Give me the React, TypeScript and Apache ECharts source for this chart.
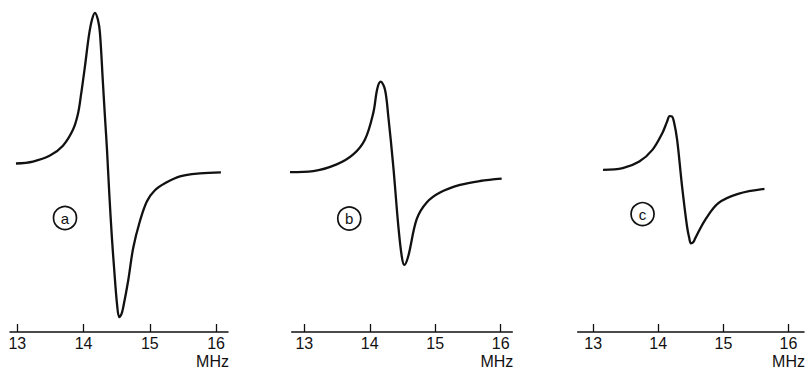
import React, { useEffect, useRef } from "react";
import * as echarts from "echarts";

// Tick labels (MHz)
const tickValues = [13, 14, 15, 16];
const tickLabels = ["13", "14", "15", "16"];
const panelNames = ["a", "b", "c"];

// Panel a: frequency (MHz) and signal (arbitrary units)
const freqA = [12.98, 13.237, 13.493, 13.689, 13.84, 13.915, 13.961, 14.021, 14.081, 14.127, 14.172, 14.217, 14.247, 14.292, 14.323, 14.353, 14.388, 14.428, 14.466, 14.504, 14.538, 14.572, 14.599, 14.674, 14.75, 14.851, 14.957, 15.077, 15.228, 15.455, 15.756, 16.073];
const sigA = [3, 5, 11, 21, 37, 53, 72, 101, 132, 148, 155, 148, 135, 85, 50, 18, -27, -72, -107, -138, -152, -149, -142, -115, -82, -55, -35, -24, -17, -10, -7, -6];

// Panel b
const freqB = [12.771, 13.137, 13.495, 13.748, 13.927, 14.054, 14.115, 14.167, 14.233, 14.283, 14.359, 14.436, 14.488, 14.527, 14.589, 14.717, 14.87, 15.073, 15.378, 15.684, 16.015];
const sigB = [-4.7, -3.7, 3, 13, 28, 54.7, 79, 86, 78, 51.3, 1.3, -58.7, -89, -98, -89, -52, -35.3, -25.3, -17.7, -13.7, -11.3];

// Panel c
const freqC = [13.152, 13.455, 13.709, 13.91, 14.062, 14.134, 14.175, 14.209, 14.24, 14.29, 14.366, 14.442, 14.475, 14.502, 14.536, 14.569, 14.721, 14.923, 15.226, 15.631];
const sigC = [-2, -0.3, 6.3, 18, 34.7, 46, 51.8, 51.5, 46.3, 28, -18.7, -58.7, -70, -75.5, -74.5, -70.3, -52, -35.3, -26, -21];

// Panel label positions (data coordinates)
const labelFreq = [13.72, 13.687, 13.759];
const labelSig = [-52, -51.3, -46.3];

const FONT = "'Liberation Sans Narrow', 'Liberation Sans', Arial, sans-serif";
const INK = "#111111";

export default function App() {
  const ref = useRef<HTMLDivElement>(null);
  useEffect(() => {
    if (!ref.current) return;
    const chart = echarts.init(ref.current, null, { renderer: "svg" });

    const grids = [
      { left: 10, width: 218, top: 0, bottom: 34 },
      { left: 291.7, width: 220.6, top: 0, bottom: 35.7 },
      { left: 577.7, width: 229, top: 0, bottom: 36.7 },
    ];
    const xRanges = [
      [12.89, 16.18],
      [12.808, 16.177],
      [12.763, 16.238],
    ];
    const yMins = [-167, -165.3, -164.3];

    const xAxes = grids.map((_, i) => ({
      type: "value",
      gridIndex: i,
      min: xRanges[i][0],
      max: xRanges[i][1],
      name: "MHz",
      nameLocation: "end",
      nameGap: 1,
      nameTextStyle: {
        fontFamily: FONT,
        fontSize: 16,
        color: INK,
        align: "right",
        verticalAlign: "top",
        padding: [21, 0, 0, 0],
      },
      axisLine: { onZero: false, lineStyle: { color: INK, width: 1.5 } },
      axisTick: {
        inside: true,
        length: 8,
        customValues: tickValues,
        lineStyle: { color: INK, width: 1.3 },
      },
      axisLabel: {
        customValues: tickValues,
        formatter: (v: number) => tickLabels[tickValues.indexOf(v)] ?? "",
        fontFamily: FONT,
        fontSize: 16,
        color: INK,
        margin: 3,
      },
      splitLine: { show: false },
    }));

    const yAxes = grids.map((_, i) => ({
      type: "value",
      gridIndex: i,
      min: yMins[i],
      max: 168,
      show: false,
    }));

    const curves = [
      [freqA, sigA],
      [freqB, sigB],
      [freqC, sigC],
    ];

    const series: any[] = curves.map(([f, s], i) => ({
      type: "line",
      xAxisIndex: i,
      yAxisIndex: i,
      data: f.map((x, k) => [x, s[k]]),
      showSymbol: false,
      smooth: 0.35,
      lineStyle: { color: INK, width: 2.3 },
    }));

    panelNames.forEach((n, i) => {
      series.push({
        type: "scatter",
        xAxisIndex: i,
        yAxisIndex: i,
        data: [[labelFreq[i], labelSig[i]]],
        symbol: "circle",
        symbolSize: 23,
        itemStyle: {
          color: "#ffffff",
          borderColor: INK,
          borderWidth: 1.7,
          opacity: 1,
        },
        label: {
          show: true,
          position: "inside",
          formatter: n,
          fontFamily: "'Liberation Sans', Arial, sans-serif",
          fontSize: 15,
          color: INK,
        },
      });
    });

    chart.setOption({
      animation: false,
      backgroundColor: "#ffffff",
      grid: grids,
      xAxis: xAxes,
      yAxis: yAxes,
      series,
    });
    return () => chart.dispose();
  }, []);

  return (
    <div
      ref={ref}
      style={{ position: "fixed", left: 0, top: 0, width: 808, height: 369 }}
    />
  );
}
